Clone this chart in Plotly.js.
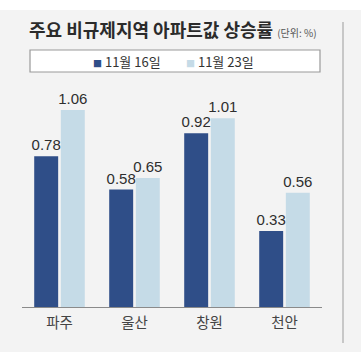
<!DOCTYPE html>
<html>
<head>
<meta charset="utf-8">
<script src="https://cdn.plot.ly/plotly-3.0.1.min.js"></script>
<style>
html,body{margin:0;padding:0;background:#ffffff;}
#chart{width:361px;height:358px;}
</style>
</head>
<body>
<div id="chart"></div>
<script>
const categories = ['파주', '울산', '창원', '천안'];
const seriesNames = ['11월 16일', '11월 23일'];
const nov16 = [0.78, 0.58, 0.92, 0.33];
const nov23 = [1.06, 0.65, 1.01, 0.56];
const titleText = '주요 비규제지역 아파트값 상승률';
const unitText = '(단위: %)';

const darkColor = '#2f4e88';
const lightColor = '#c5dbe7';
// axis starts slightly below zero, as in the original graphic
const AXIS_FLOOR = -0.128;

function barTrace(name, vals, color) {
  return {
    type: 'bar',
    name: name,
    x: categories,
    y: vals.map(v => v - AXIS_FLOOR),
    base: AXIS_FLOOR,
    text: vals.map(v => v.toFixed(2)),
    textposition: 'outside',
    constraintext: 'none',
    textfont: {family: '"Liberation Sans Narrow", "Liberation Sans", Arial, sans-serif', size: 15, color: '#2e2e2e'},
    cliponaxis: false,
    marker: {color: color, line: {width: 0}},
    hoverinfo: 'skip'
  };
}

const data = [
  barTrace(seriesNames[0], nov16, darkColor),
  barTrace(seriesNames[1], nov23, lightColor)
];

const layout = {
  width: 361,
  height: 358,
  margin: {l: 22, r: 39, t: 90, b: 51, pad: 0},
  paper_bgcolor: '#ffffff',
  plot_bgcolor: 'rgba(0,0,0,0)',
  showlegend: false,
  barmode: 'group',
  bargap: 0.29,
  bargroupgap: 0.1,
  font: {family: '"Noto Sans CJK KR", sans-serif', color: '#333333'},
  title: {
    text: '<b>' + titleText + '</b> <span style="font-size:10px;font-weight:normal;color:#555555">' + unitText + '</span>',
    font: {family: '"Noto Sans CJK KR", sans-serif', size: 18, color: '#2b2b2b'},
    x: 29 / 361,
    xanchor: 'left',
    xref: 'container',
    y: 1 - 31 / 358,
    yanchor: 'middle',
    yref: 'container'
  },
  xaxis: {
    type: 'category',
    showline: true,
    linecolor: '#8a8a8a',
    linewidth: 1.2,
    ticks: '',
    showgrid: false,
    zeroline: false,
    tickfont: {family: '"Noto Sans CJK KR", sans-serif', size: 14.5, color: '#444444'},
    ticklabelstandoff: 2,
    fixedrange: true
  },
  yaxis: {
    range: [AXIS_FLOOR, 1.18],
    visible: false,
    showgrid: false,
    zeroline: false,
    fixedrange: true
  },
  shapes: [
    {type: 'rect', xref: 'paper', yref: 'paper', x0: -0.0733, x1: 1.13, y0: -0.2074, y1: 1.3687,
     fillcolor: '#f3f3f3', line: {width: 0}, layer: 'below'},
    {type: 'line', xref: 'paper', yref: 'paper', x0: 1.07, x1: 1.07, y0: -0.1659, y1: 1.3134,
     line: {color: '#b8b8b8', width: 1.5}, layer: 'below'},
    {type: 'rect', xref: 'paper', yref: 'paper', x0: 0.0267, x1: 0.9933, y0: 1.083, y1: 1.1843,
     fillcolor: '#ffffff', line: {color: '#9a9a9a', width: 1.2}, layer: 'below'}
  ],
  annotations: [
    {xref: 'paper', yref: 'paper', x: (91 - 22) / 300, y: (307 - 61) / 217, xanchor: 'left', yanchor: 'middle',
     showarrow: false,
     text: '<span style="color:' + darkColor + ';font-size:9px">■</span> ' + seriesNames[0],
     font: {family: '"Noto Sans CJK KR", sans-serif', size: 13, color: '#333333'}},
    {xref: 'paper', yref: 'paper', x: (184 - 22) / 300, y: (307 - 61) / 217, xanchor: 'left', yanchor: 'middle',
     showarrow: false,
     text: '<span style="color:' + lightColor + ';font-size:9px">■</span> ' + seriesNames[1],
     font: {family: '"Noto Sans CJK KR", sans-serif', size: 13, color: '#333333'}}
  ]
};

Plotly.newPlot('chart', data, layout, {displayModeBar: false, staticPlot: true});
</script>
</body>
</html>
